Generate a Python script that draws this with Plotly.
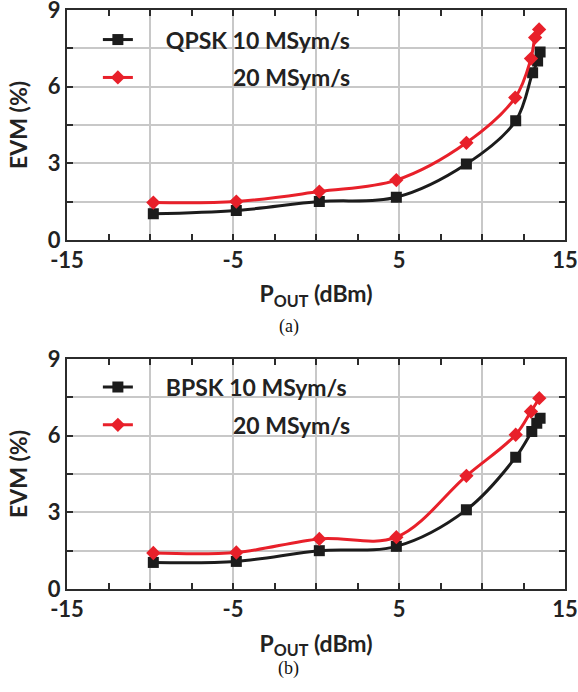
import plotly.graph_objects as go
from plotly.subplots import make_subplots

# Output power (dBm) and EVM (%) for each modulation / symbol rate
qpsk10_pout = [-9.8, -4.8, 0.2, 4.84, 9.06, 12.03, 13.05, 13.35, 13.5]
qpsk10_evm = [1.02, 1.15, 1.50, 1.67, 2.97, 4.66, 6.54, 7.0, 7.36]
qpsk20_pout = [-9.8, -4.8, 0.2, 4.84, 9.06, 12.0, 12.95, 13.2, 13.44]
qpsk20_evm = [1.46, 1.50, 1.89, 2.34, 3.80, 5.57, 7.1, 7.92, 8.24]

bpsk10_pout = [-9.8, -4.8, 0.2, 4.84, 9.06, 12.03, 13.0, 13.3, 13.5]
bpsk10_evm = [1.04, 1.08, 1.50, 1.67, 3.10, 5.16, 6.17, 6.49, 6.69]
bpsk20_pout = [-9.8, -4.8, 0.2, 4.84, 9.06, 12.03, 12.95, 13.45]
bpsk20_evm = [1.41, 1.43, 1.96, 2.03, 4.43, 6.04, 6.95, 7.47]

x_tickvals = [-15, -10, -5, 0, 5, 10, 15]
x_ticktext = ["-15", "", "-5", "", "5", "", "15"]
y_tickvals = [0, 1.5, 3, 4.5, 6, 7.5, 9]
y_ticktext = ["0", "", "3", "", "6", "", "9"]

BLACK = "#1c1c1c"
RED = "#e8202a"
FONT = "Lato"
NB = "\u00a0"

fig = make_subplots(rows=2, cols=1, vertical_spacing=0.206)


def add_pair(row, p10, e10, p20, e20, name10, legend):
    fig.add_trace(go.Scatter(
        x=p10, y=e10, mode="lines+markers", name=name10,
        line=dict(color=BLACK, width=3, shape="spline"),
        marker=dict(symbol="square", size=11, color=BLACK),
        legend=legend, legendgroup=legend + "a",
    ), row=row, col=1)
    fig.add_trace(go.Scatter(
        x=p20, y=e20, mode="lines+markers", name=NB * 17 + "20 MSym/s",
        line=dict(color=RED, width=3, shape="spline"),
        marker=dict(symbol="diamond", size=11, color=RED),
        legend=legend, legendgroup=legend + "b",
    ), row=row, col=1)


add_pair(1, qpsk10_pout, qpsk10_evm, qpsk20_pout, qpsk20_evm,
         NB * 5 + "QPSK 10 MSym/s", "legend")
add_pair(2, bpsk10_pout, bpsk10_evm, bpsk20_pout, bpsk20_evm,
         NB * 5 + "BPSK 10 MSym/s", "legend2")

axis_common = dict(
    automargin=False, ticklabeloverflow="allow",
    showline=True, linecolor="#2b2b2b", linewidth=2, mirror="ticks",
    ticks="inside", ticklen=6, tickwidth=2, tickcolor="#2b2b2b",
    showgrid=True, gridcolor="#c8c8c8", gridwidth=2, zeroline=False,
    tickfont=dict(family=FONT, size=22, color="#222222", weight="bold"),
)

for r in (1, 2):
    fig.update_xaxes(
        range=[-15, 15], tickmode="array", tickvals=x_tickvals, ticktext=x_ticktext,
        minor=dict(tick0=-15, dtick=2.5, ticks="inside", ticklen=6, tickwidth=2,
                   tickcolor="#2b2b2b", showgrid=False),
        title=dict(text="P<sub>OUT</sub> (dBm)", standoff=14,
                   font=dict(family=FONT, size=23, color="#222222", weight="bold")),
        **axis_common, row=r, col=1,
    )
    fig.update_yaxes(
        range=[0, 9], tickmode="array", tickvals=y_tickvals, ticktext=y_ticktext,
        title=dict(text="EVM (%)", standoff=14,
                   font=dict(family=FONT, size=23, color="#222222", weight="bold")),
        **axis_common, row=r, col=1,
    )

legend_style = dict(
    font=dict(family=FONT, size=23, color="#222222", weight="bold"),
    bgcolor="rgba(0,0,0,0)", borderwidth=0, tracegroupgap=5,
    xanchor="left", yanchor="top",
)

fig.update_layout(
    width=578, height=692,
    margin=dict(l=67, r=13, t=10, b=103),
    paper_bgcolor="white", plot_bgcolor="white",
    showlegend=True,
    legend=dict(x=0.062, y=0.986, **legend_style),
    legend2=dict(x=0.062, y=0.386, **legend_style),
)

# Sub-figure captions placed below each panel
caption_font = dict(family="Liberation Serif", size=18, color="#111111")
fig.add_annotation(text="(a)", xref="paper", yref="paper", x=0.445, y=1 - (326 - 10) / 579,
                   showarrow=False, font=caption_font)
fig.add_annotation(text="(b)", xref="paper", yref="paper", x=0.445, y=1 - (681 - 10) / 579,
                   showarrow=False, font=caption_font)

fig.write_html("out.html")
